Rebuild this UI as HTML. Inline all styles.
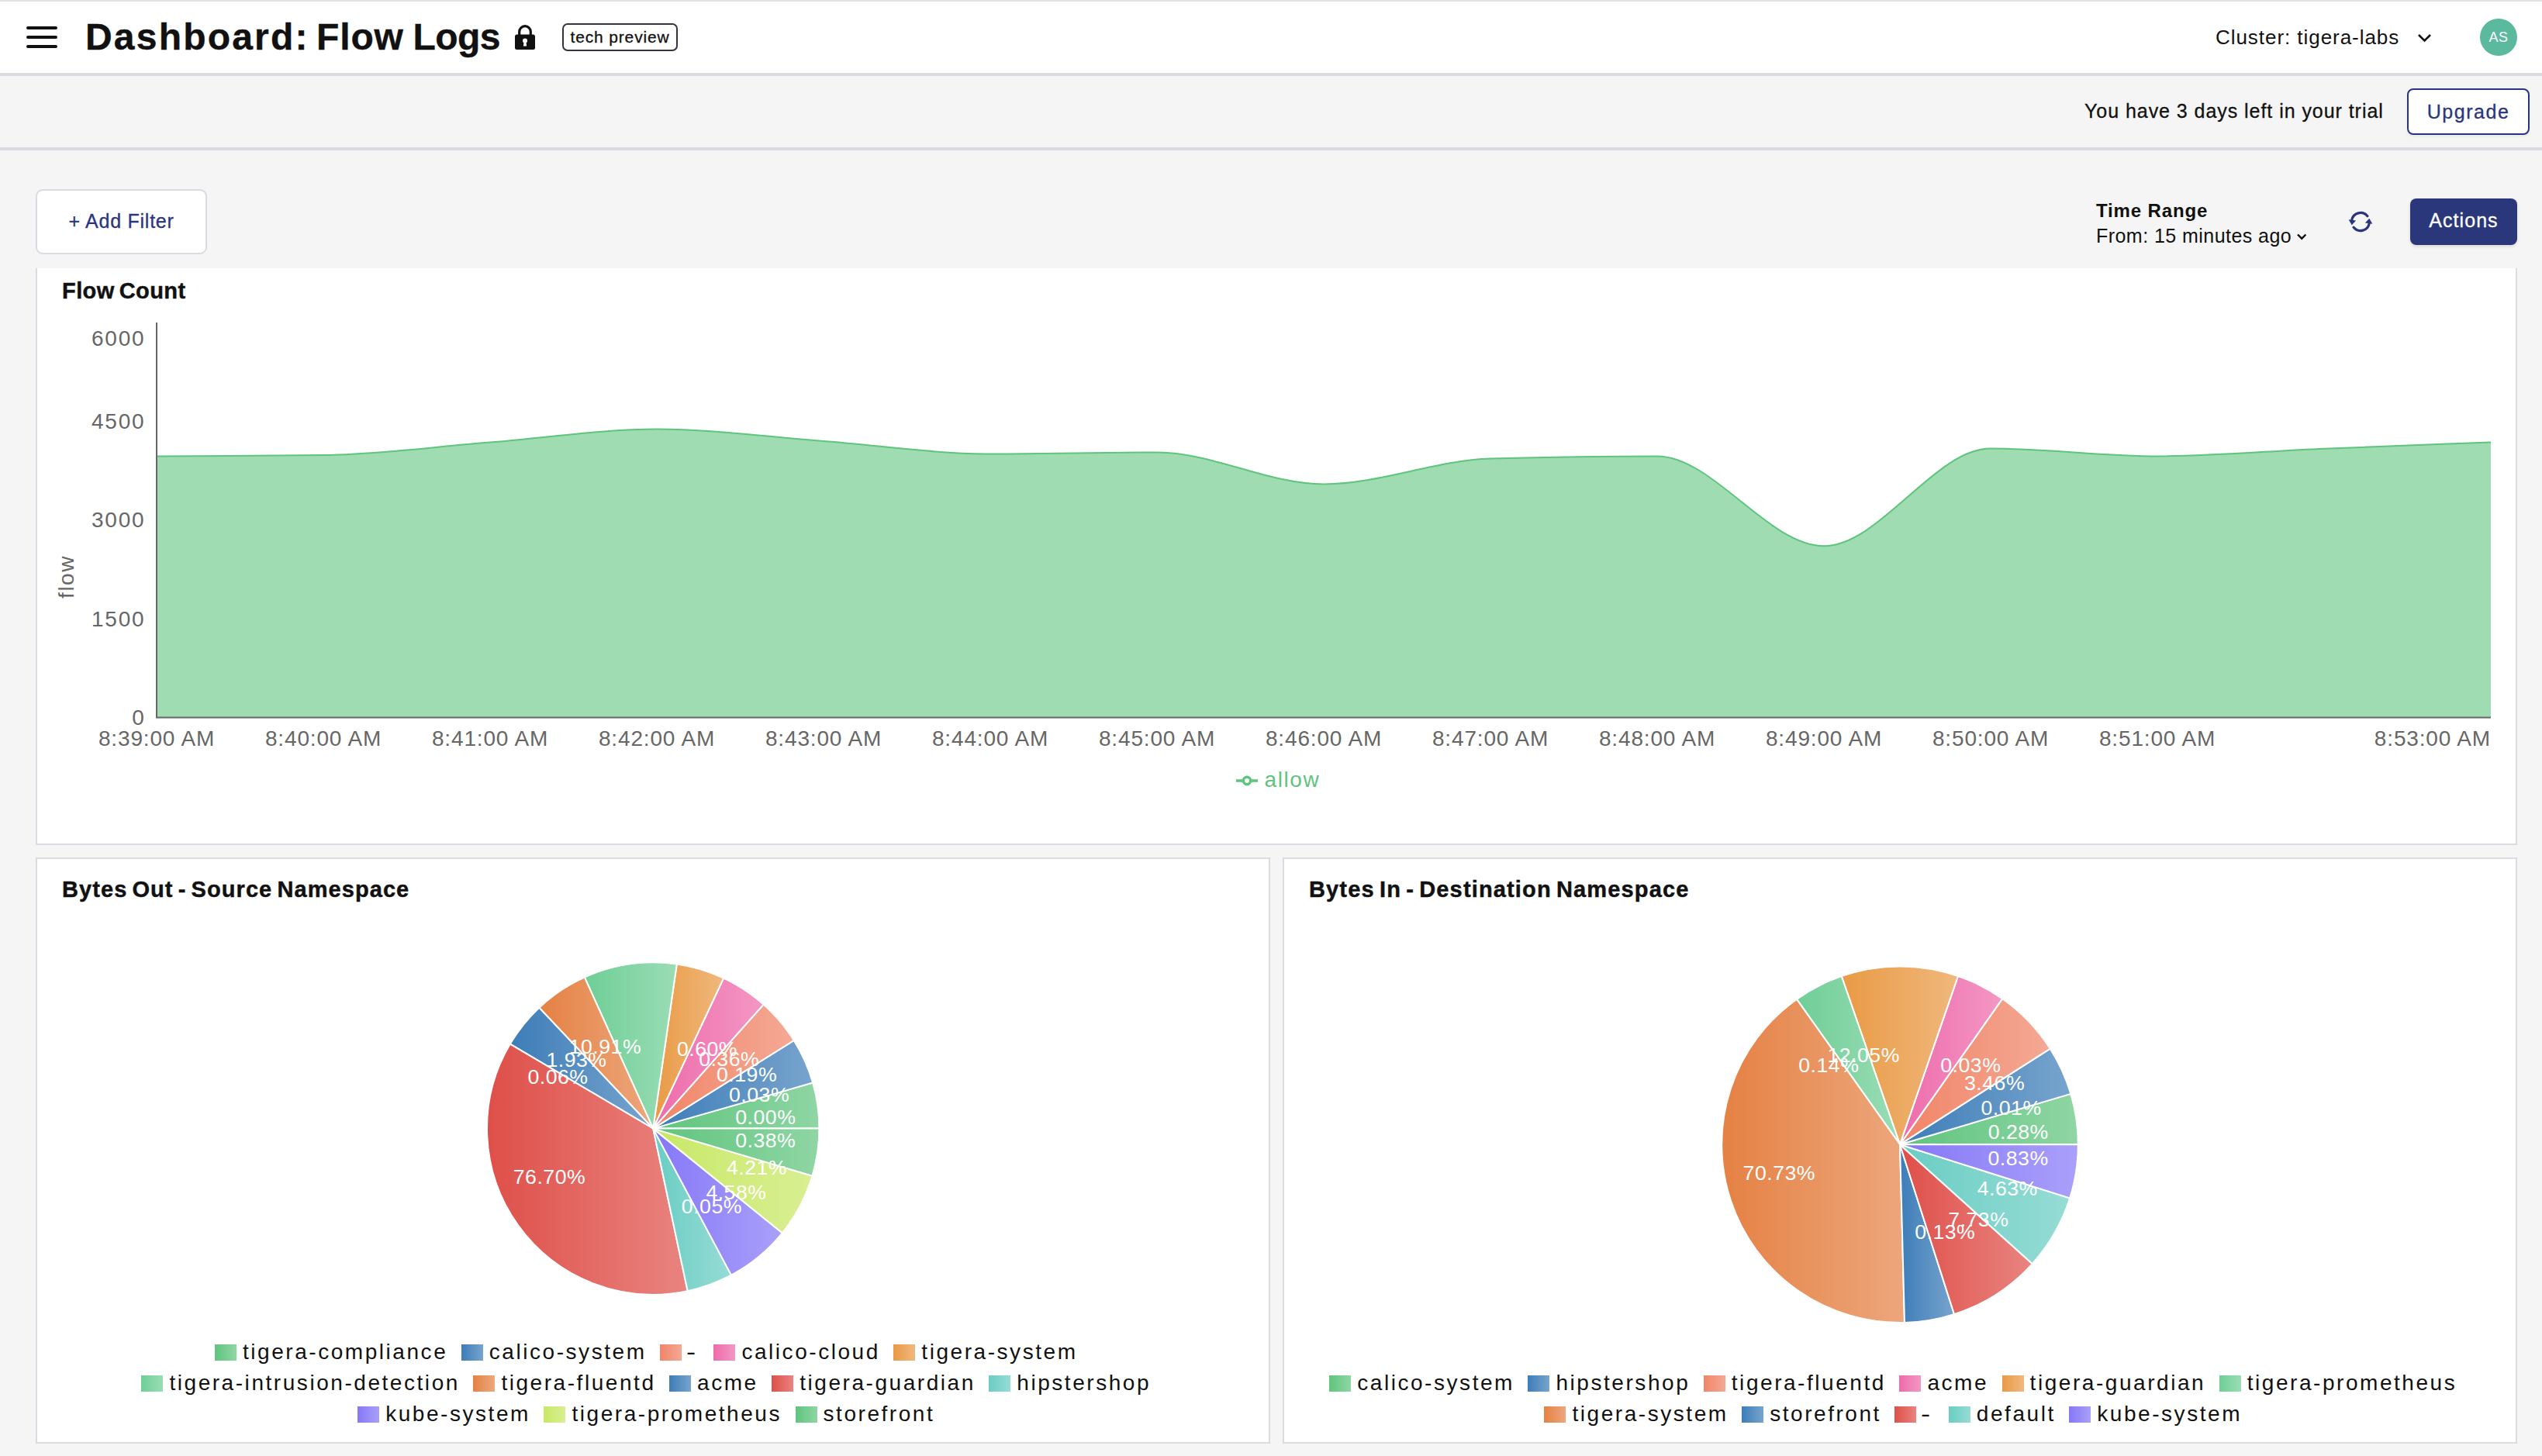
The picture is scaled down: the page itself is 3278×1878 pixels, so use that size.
<!DOCTYPE html>
<html lang="en">
<head>
<meta charset="utf-8">
<title>Dashboard: Flow Logs</title>
<style>
*{box-sizing:border-box;margin:0;padding:0}
html,body{width:3278px;height:1878px;overflow:hidden;background:#f5f5f5;font-family:"Liberation Sans",sans-serif;color:#111}
.abs{position:absolute;white-space:nowrap;line-height:1}
#topline{position:absolute;left:0;top:0;width:3278px;height:2px;background:#e1e3e1}
#header{position:absolute;left:0;top:2px;width:3278px;height:96px;background:#fff;border-bottom:4px solid #dadbe0}
#trial{position:absolute;left:0;top:98px;width:3278px;height:96px;background:#f5f5f5;border-bottom:4px solid #dadbe0}
.burger{position:absolute;left:34px;width:40px;height:4px;border-radius:2px;background:#111}
h1{-webkit-text-stroke:.4px #111;position:absolute;left:110px;top:19px;font-size:48px;font-weight:700;letter-spacing:.7px;white-space:nowrap;line-height:54px}
.badge{position:absolute;left:725px;top:28px;width:149px;height:36px;border:2px solid #32363c;border-radius:7px;font-size:21px;line-height:31px;text-align:center;letter-spacing:.85px;-webkit-text-stroke:.3px #111}
.cluster{left:2857px;top:30.5px;font-size:26px;letter-spacing:.95px;line-height:30px}
.avatar{position:absolute;left:3198px;top:22px;width:48px;height:48px;border-radius:50%;background:#5bb99d;color:#fff;font-size:18px;line-height:48px;text-align:center;letter-spacing:.5px}
.trialtxt{left:2688px;top:128px;font-size:25px;letter-spacing:.95px;line-height:30px;-webkit-text-stroke:.3px #111}
.btn{position:absolute;border-radius:8px;text-align:center;white-space:nowrap}
.upgrade{left:3104px;top:114px;width:158px;height:60px;border:2px solid #2a357f;background:#fff;color:#2a357f;font-size:25px;line-height:57px;letter-spacing:1.55px;-webkit-text-stroke:.3px #2a357f;box-shadow:0 2px 3px rgba(0,0,0,.06)}
.addfilter{left:46px;top:244px;width:221px;height:84px;border:2px solid #d9dae2;background:#fff;color:#2a357f;font-size:25px;line-height:78px;letter-spacing:.75px;-webkit-text-stroke:.3px #2a357f;border-radius:9px}
.actions{left:3108px;top:256px;width:138px;height:60px;background:#2b377b;color:#fff;font-size:25px;line-height:57px;letter-spacing:1.05px;-webkit-text-stroke:.3px #fff;box-shadow:0 2px 4px rgba(0,0,0,.12)}
.trlabel{left:2703px;top:257px;font-size:24px;font-weight:700;line-height:30px;letter-spacing:.85px}
.trvalue{left:2703px;top:289px;font-size:25px;line-height:30px;letter-spacing:.45px}
.card{position:absolute;background:#fff;border:2px solid #dbdce2}
.card h2{position:absolute;left:32px;font-size:29px;font-weight:700;white-space:nowrap;line-height:34px;-webkit-text-stroke:.45px #111}
#c1{left:46px;top:336px;width:3200px;height:754px}
#c2{left:46px;top:1106px;width:1592px;height:756px}
#c3{left:1654px;top:1106px;width:1592px;height:756px}
#filterbar{position:absolute;left:0;top:194px;width:3278px;height:152px;background:#f5f5f5}
svg{position:absolute;left:0;top:0;overflow:visible}
svg text{font-family:"Liberation Sans",sans-serif}
.axis text{fill:#666;font-size:28px;letter-spacing:.85px}
.axis .yt text{letter-spacing:1.8px}
.plab text{letter-spacing:.5px}
ul.leg{position:absolute;list-style:none;text-align:center;font-size:28px;line-height:40px;letter-spacing:2.55px;color:#111}
ul.leg li{display:inline-block;margin-right:17.5px;white-space:nowrap}
ul.leg li i{display:inline-block;width:28px;height:21px;margin-right:8px;vertical-align:-2px}
ul.leg li span{display:inline-block}
</style>
</head>
<body>
<div id="topline"></div>
<header id="header">
  <div class="burger" style="top:32px"></div><div class="burger" style="top:44px"></div><div class="burger" style="top:56px"></div>
  <h1><span style="letter-spacing:2.2px">Dashboard:</span><span style="letter-spacing:.9px;margin-left:-5px"> Flow</span><span style="letter-spacing:-.6px;margin-left:-1px"> Logs</span></h1>
  <svg width="3278" height="96" viewBox="0 2 3278 96">
    <g fill="#111">
      <path d="M666.5,44.5h21a2.5,2.5,0,0,1,2.500,2.500v14.500a2.500,2.500,0,0,1,-2.500,2.500h-21a2.500,2.500,0,0,1,-2.500,-2.500v-14.500a2.500,2.500,0,0,1,2.500,-2.500z"/>
      <path d="M669.7,46v-5a7.300,7.300,0,0,1,14.600,0v5" fill="none" stroke="#111" stroke-width="3.200"/>
      <circle cx="677" cy="52.600" r="3" fill="#fff"/><path d="M675.700,53h2.600l.8,6.400h-4.200z" fill="#fff"/>
    </g>
    <path d="M3119,45l7.500,7.500l7.500,-7.500" fill="none" stroke="#111" stroke-width="2.600"/>
  </svg>
  <div class="badge">tech preview</div>
  <div class="abs cluster">Cluster: tigera-labs</div>
  <div class="avatar">AS</div>
</header>
<section id="trial"></section>
<div class="abs trialtxt">You have 3 days left in your trial</div>
<div class="btn upgrade">Upgrade</div>

<main>
<section class="card" id="c1">
  <h2 style="top:19.800px;letter-spacing:.42px;word-spacing:-2.500px">Flow Count</h2>
</section>
<section class="card" id="c2">
  <h2 style="top:22.400px;letter-spacing:1.07px;word-spacing:-3px">Bytes Out - Source Namespace</h2>
  <ul class="leg" style="left:0;top:616px;width:1588px"><li><i style="background:linear-gradient(90deg,#5fc47d,#8fd6a4)"></i><span>tigera-compliance</span></li><li><i style="background:linear-gradient(90deg,#3d7db8,#77a4cd)"></i><span>calico-system</span></li><li><i style="background:linear-gradient(90deg,#f08467,#f4a995)"></i><span style="padding:0 1px 0 0;transform:scaleX(1.3);transform-origin:0 50%%;margin-right:3px">-</span></li><li><i style="background:linear-gradient(90deg,#ee6bab,#f397c4)"></i><span>calico-cloud</span></li><li><i style="background:linear-gradient(90deg,#e99a45,#f0b87d)"></i><span>tigera-system</span></li><br><li><i style="background:linear-gradient(90deg,#6fce96,#9addb6)"></i><span>tigera-intrusion-detection</span></li><li><i style="background:linear-gradient(90deg,#e58144,#eda77c)"></i><span>tigera-fluentd</span></li><li><i style="background:linear-gradient(90deg,#3d7db8,#77a4cd)"></i><span>acme</span></li><li><i style="background:linear-gradient(90deg,#df4f49,#e98480)"></i><span>tigera-guardian</span></li><li><i style="background:linear-gradient(90deg,#69cdc3,#96dcd5)"></i><span>hipstershop</span></li><br><li><i style="background:linear-gradient(90deg,#8577f7,#aaa0f9)"></i><span>kube-system</span></li><li><i style="background:linear-gradient(90deg,#c8e865,#d8ef93)"></i><span>tigera-prometheus</span></li><li><i style="background:linear-gradient(90deg,#5fc47d,#8fd6a4)"></i><span>storefront</span></li></ul>
</section>
<section class="card" id="c3">
  <h2 style="top:22.400px;letter-spacing:1.15px;word-spacing:-3px">Bytes In - Destination Namespace</h2>
  <ul class="leg" style="left:0;top:656px;width:1588px"><li><i style="background:linear-gradient(90deg,#5fc47d,#8fd6a4)"></i><span>calico-system</span></li><li><i style="background:linear-gradient(90deg,#3d7db8,#77a4cd)"></i><span>hipstershop</span></li><li><i style="background:linear-gradient(90deg,#f08467,#f4a995)"></i><span>tigera-fluentd</span></li><li><i style="background:linear-gradient(90deg,#ee6bab,#f397c4)"></i><span>acme</span></li><li><i style="background:linear-gradient(90deg,#e99a45,#f0b87d)"></i><span>tigera-guardian</span></li><li><i style="background:linear-gradient(90deg,#6fce96,#9addb6)"></i><span>tigera-prometheus</span></li><br><li><i style="background:linear-gradient(90deg,#e58144,#eda77c)"></i><span>tigera-system</span></li><li><i style="background:linear-gradient(90deg,#3d7db8,#77a4cd)"></i><span>storefront</span></li><li><i style="background:linear-gradient(90deg,#df4f49,#e98480)"></i><span style="padding:0 1px 0 0;transform:scaleX(1.3);transform-origin:0 50%%;margin-right:3px">-</span></li><li><i style="background:linear-gradient(90deg,#69cdc3,#96dcd5)"></i><span>default</span></li><li><i style="background:linear-gradient(90deg,#8577f7,#aaa0f9)"></i><span>kube-system</span></li></ul>
</section>
<div id="filterbar"></div>
<div class="btn addfilter">+ Add Filter</div>
<div class="abs trlabel">Time Range</div>
<div class="abs trvalue">From: 15 minutes ago</div>
<div class="btn actions">Actions</div>

<svg width="3278" height="1878" viewBox="0 0 3278 1878">
  <!-- time range chevron + refresh icon -->
  <path d="M2963,302.500l5.200,5.200l5.200,-5.200" fill="none" stroke="#111" stroke-width="2.400"/>
  <g transform="translate(3044,286)" fill="#2a357f" stroke="none">
    <path d="M8.900,-7.300A11.500,11.500,0,0,0,-11.300,-2" fill="none" stroke="#2a357f" stroke-width="3.200" stroke-linecap="round"/>
    <path d="M-15.400,-2.800L-5.900,-1.600L-11.250,4.200Z"/>
    <path d="M-8.900,7.300A11.500,11.500,0,0,0,11.300,2" fill="none" stroke="#2a357f" stroke-width="3.200" stroke-linecap="round"/>
    <path d="M15.400,2.800L5.900,1.600L11.250,-4.200Z"/>
  </g>
  <!-- area chart -->
  <path d="M202.00,588.40C273.67,588.18,345.33,587.97,417.00,587.10C488.67,586.23,560.33,576.20,632.00,570.60C703.67,565.00,775.33,553.50,847.00,553.50C918.67,553.50,990.33,563.67,1062.00,569.00C1133.67,574.33,1205.33,585.50,1277.00,585.50C1348.67,585.50,1420.33,583.50,1492.00,583.50C1563.67,583.50,1635.33,624.50,1707.00,624.50C1778.67,624.50,1850.33,593.73,1922.00,591.60C1993.67,589.47,2065.33,588.40,2137.00,588.40C2208.67,588.40,2280.33,704.20,2352.00,704.20C2423.67,704.20,2495.33,578.40,2567.00,578.40C2638.67,578.40,2710.33,588.40,2782.00,588.40C2853.67,588.40,2925.33,581.67,2997.00,578.70C3068.67,575.73,3140.33,573.17,3212.00,570.60L3212,925.5L202,925.5Z" fill="#5fc47d" fill-opacity="0.6"/>
  <path d="M202.00,588.40C273.67,588.18,345.33,587.97,417.00,587.10C488.67,586.23,560.33,576.20,632.00,570.60C703.67,565.00,775.33,553.50,847.00,553.50C918.67,553.50,990.33,563.67,1062.00,569.00C1133.67,574.33,1205.33,585.50,1277.00,585.50C1348.67,585.50,1420.33,583.50,1492.00,583.50C1563.67,583.50,1635.33,624.50,1707.00,624.50C1778.67,624.50,1850.33,593.73,1922.00,591.60C1993.67,589.47,2065.33,588.40,2137.00,588.40C2208.67,588.40,2280.33,704.20,2352.00,704.20C2423.67,704.20,2495.33,578.40,2567.00,578.40C2638.67,578.40,2710.33,588.40,2782.00,588.40C2853.67,588.40,2925.33,581.67,2997.00,578.70C3068.67,575.73,3140.33,573.17,3212.00,570.60" fill="none" stroke="#5fc47d" stroke-width="2"/>
  <path d="M202,416V926.500M201,925.500H3212" fill="none" stroke="#666" stroke-width="2"/>
  <g class="axis"><g class="yt"><text x="187.500" y="436" text-anchor="end" dominant-baseline="central">6000</text><text x="187.500" y="543" text-anchor="end" dominant-baseline="central">4500</text><text x="187.500" y="670.5" text-anchor="end" dominant-baseline="central">3000</text><text x="187.500" y="798" text-anchor="end" dominant-baseline="central">1500</text><text x="187.500" y="925.5" text-anchor="end" dominant-baseline="central">0</text></g><text x="202" y="962" text-anchor="middle">8:39:00 AM</text><text x="417" y="962" text-anchor="middle">8:40:00 AM</text><text x="632" y="962" text-anchor="middle">8:41:00 AM</text><text x="847" y="962" text-anchor="middle">8:42:00 AM</text><text x="1062" y="962" text-anchor="middle">8:43:00 AM</text><text x="1277" y="962" text-anchor="middle">8:44:00 AM</text><text x="1492" y="962" text-anchor="middle">8:45:00 AM</text><text x="1707" y="962" text-anchor="middle">8:46:00 AM</text><text x="1922" y="962" text-anchor="middle">8:47:00 AM</text><text x="2137" y="962" text-anchor="middle">8:48:00 AM</text><text x="2352" y="962" text-anchor="middle">8:49:00 AM</text><text x="2567" y="962" text-anchor="middle">8:50:00 AM</text><text x="2782" y="962" text-anchor="middle">8:51:00 AM</text><text x="3212" y="962" text-anchor="end">8:53:00 AM</text>
    <text transform="translate(94.500,744) rotate(-90)" text-anchor="middle" style="letter-spacing:1.5px;font-size:28px">flow</text>
  </g>
  <g fill="none" stroke="#5fc47d" stroke-width="3.500">
    <path d="M1594,1007h9.330a4.670,4.670,0,1,1,9.340,0h9.330M1612.670,1007a4.670,4.670,0,1,1,-9.340,0"/>
  </g>
  <text x="1630.500" y="1015" fill="#5fc47d" font-size="28" style="letter-spacing:1.6px">allow</text>
  <!-- pies -->
  <defs><linearGradient id="lg0" x1="0" y1="0" x2="1" y2="0"><stop offset="0" stop-color="#5fc47d"/><stop offset="1" stop-color="#5fc47d" stop-opacity="0.7"/></linearGradient><linearGradient id="lg1" x1="0" y1="0" x2="1" y2="0"><stop offset="0" stop-color="#3d7db8"/><stop offset="1" stop-color="#3d7db8" stop-opacity="0.7"/></linearGradient><linearGradient id="lg2" x1="0" y1="0" x2="1" y2="0"><stop offset="0" stop-color="#f08467"/><stop offset="1" stop-color="#f08467" stop-opacity="0.7"/></linearGradient><linearGradient id="lg3" x1="0" y1="0" x2="1" y2="0"><stop offset="0" stop-color="#ee6bab"/><stop offset="1" stop-color="#ee6bab" stop-opacity="0.7"/></linearGradient><linearGradient id="lg4" x1="0" y1="0" x2="1" y2="0"><stop offset="0" stop-color="#e99a45"/><stop offset="1" stop-color="#e99a45" stop-opacity="0.7"/></linearGradient><linearGradient id="lg5" x1="0" y1="0" x2="1" y2="0"><stop offset="0" stop-color="#6fce96"/><stop offset="1" stop-color="#6fce96" stop-opacity="0.7"/></linearGradient><linearGradient id="lg6" x1="0" y1="0" x2="1" y2="0"><stop offset="0" stop-color="#e58144"/><stop offset="1" stop-color="#e58144" stop-opacity="0.7"/></linearGradient><linearGradient id="lg7" x1="0" y1="0" x2="1" y2="0"><stop offset="0" stop-color="#3d7db8"/><stop offset="1" stop-color="#3d7db8" stop-opacity="0.7"/></linearGradient><linearGradient id="lg8" x1="0" y1="0" x2="1" y2="0"><stop offset="0" stop-color="#df4f49"/><stop offset="1" stop-color="#df4f49" stop-opacity="0.7"/></linearGradient><linearGradient id="lg9" x1="0" y1="0" x2="1" y2="0"><stop offset="0" stop-color="#69cdc3"/><stop offset="1" stop-color="#69cdc3" stop-opacity="0.7"/></linearGradient><linearGradient id="lg10" x1="0" y1="0" x2="1" y2="0"><stop offset="0" stop-color="#8577f7"/><stop offset="1" stop-color="#8577f7" stop-opacity="0.7"/></linearGradient><linearGradient id="lg11" x1="0" y1="0" x2="1" y2="0"><stop offset="0" stop-color="#c8e865"/><stop offset="1" stop-color="#c8e865" stop-opacity="0.7"/></linearGradient><linearGradient id="lg12" x1="0" y1="0" x2="1" y2="0"><stop offset="0" stop-color="#5fc47d"/><stop offset="1" stop-color="#5fc47d" stop-opacity="0.7"/></linearGradient></defs>
<g><path d="M1056.40,1455.60 A214.20,214.20,0,0,0,1048.10,1396.56 L842.20,1455.60 Z" fill="url(#lg0)" stroke="#fff" stroke-width="2"/>
<path d="M1048.10,1396.56 A214.20,214.20,0,0,0,1023.76,1341.95 L842.20,1455.60 Z" fill="url(#lg1)" stroke="#fff" stroke-width="2"/>
<path d="M1023.76,1341.95 A214.20,214.20,0,0,0,984.60,1295.58 L842.20,1455.60 Z" fill="url(#lg2)" stroke="#fff" stroke-width="2"/>
<path d="M984.60,1295.58 A214.20,214.20,0,0,0,933.13,1261.66 L842.20,1455.60 Z" fill="url(#lg3)" stroke="#fff" stroke-width="2"/>
<path d="M933.13,1261.66 A214.20,214.20,0,0,0,872.77,1243.59 L842.20,1455.60 Z" fill="url(#lg4)" stroke="#fff" stroke-width="2"/>
<path d="M872.77,1243.59 A214.20,214.20,0,0,0,753.79,1260.50 L842.20,1455.60 Z" fill="url(#lg5)" stroke="#fff" stroke-width="2"/>
<path d="M753.79,1260.50 A214.20,214.20,0,0,0,695.27,1299.74 L842.20,1455.60 Z" fill="url(#lg6)" stroke="#fff" stroke-width="2"/>
<path d="M695.27,1299.74 A214.20,214.20,0,0,0,657.83,1346.57 L842.20,1455.60 Z" fill="url(#lg7)" stroke="#fff" stroke-width="2"/>
<path d="M657.83,1346.57 A214.20,214.20,0,0,0,886.68,1665.13 L842.20,1455.60 Z" fill="url(#lg8)" stroke="#fff" stroke-width="2"/>
<path d="M886.68,1665.13 A214.20,214.20,0,0,0,942.96,1644.62 L842.20,1455.60 Z" fill="url(#lg9)" stroke="#fff" stroke-width="2"/>
<path d="M942.96,1644.62 A214.20,214.20,0,0,0,1008.72,1590.33 L842.20,1455.60 Z" fill="url(#lg10)" stroke="#fff" stroke-width="2"/>
<path d="M1008.72,1590.33 A214.20,214.20,0,0,0,1047.50,1516.71 L842.20,1455.60 Z" fill="url(#lg11)" stroke="#fff" stroke-width="2"/>
<path d="M1047.50,1516.71 A214.20,214.20,0,0,0,1056.40,1455.60 L842.20,1455.60 Z" fill="url(#lg12)" stroke="#fff" stroke-width="2"/></g>
<g class="plab" fill="#fff" font-size="26.67"><text x="948.26" y="1440.69" text-anchor="start" dominant-baseline="central">0.00%</text>
<text x="940.02" y="1412.00" text-anchor="start" dominant-baseline="central">0.03%</text>
<text x="924.01" y="1386.49" text-anchor="start" dominant-baseline="central">0.19%</text>
<text x="901.14" y="1366.18" text-anchor="start" dominant-baseline="central">0.36%</text>
<text x="872.91" y="1353.00" text-anchor="start" dominant-baseline="central">0.60%</text>
<text x="827.14" y="1349.56" text-anchor="end" dominant-baseline="central">10.91%</text>
<text x="782.55" y="1366.65" text-anchor="end" dominant-baseline="central">1.93%</text>
<text x="758.55" y="1388.72" text-anchor="end" dominant-baseline="central">0.06%</text>
<text x="755.22" y="1518.09" text-anchor="end" dominant-baseline="central">76.70%</text>
<text x="878.87" y="1556.23" text-anchor="start" dominant-baseline="central">0.05%</text>
<text x="910.39" y="1538.19" text-anchor="start" dominant-baseline="central">4.58%</text>
<text x="936.96" y="1505.51" text-anchor="start" dominant-baseline="central">4.21%</text>
<text x="948.18" y="1471.04" text-anchor="start" dominant-baseline="central">0.38%</text></g>
  <defs><linearGradient id="rg0" x1="0" y1="0" x2="1" y2="0"><stop offset="0" stop-color="#5fc47d"/><stop offset="1" stop-color="#5fc47d" stop-opacity="0.7"/></linearGradient><linearGradient id="rg1" x1="0" y1="0" x2="1" y2="0"><stop offset="0" stop-color="#3d7db8"/><stop offset="1" stop-color="#3d7db8" stop-opacity="0.7"/></linearGradient><linearGradient id="rg2" x1="0" y1="0" x2="1" y2="0"><stop offset="0" stop-color="#f08467"/><stop offset="1" stop-color="#f08467" stop-opacity="0.7"/></linearGradient><linearGradient id="rg3" x1="0" y1="0" x2="1" y2="0"><stop offset="0" stop-color="#ee6bab"/><stop offset="1" stop-color="#ee6bab" stop-opacity="0.7"/></linearGradient><linearGradient id="rg4" x1="0" y1="0" x2="1" y2="0"><stop offset="0" stop-color="#e99a45"/><stop offset="1" stop-color="#e99a45" stop-opacity="0.7"/></linearGradient><linearGradient id="rg5" x1="0" y1="0" x2="1" y2="0"><stop offset="0" stop-color="#6fce96"/><stop offset="1" stop-color="#6fce96" stop-opacity="0.7"/></linearGradient><linearGradient id="rg6" x1="0" y1="0" x2="1" y2="0"><stop offset="0" stop-color="#e58144"/><stop offset="1" stop-color="#e58144" stop-opacity="0.7"/></linearGradient><linearGradient id="rg7" x1="0" y1="0" x2="1" y2="0"><stop offset="0" stop-color="#3d7db8"/><stop offset="1" stop-color="#3d7db8" stop-opacity="0.7"/></linearGradient><linearGradient id="rg8" x1="0" y1="0" x2="1" y2="0"><stop offset="0" stop-color="#df4f49"/><stop offset="1" stop-color="#df4f49" stop-opacity="0.7"/></linearGradient><linearGradient id="rg9" x1="0" y1="0" x2="1" y2="0"><stop offset="0" stop-color="#69cdc3"/><stop offset="1" stop-color="#69cdc3" stop-opacity="0.7"/></linearGradient><linearGradient id="rg10" x1="0" y1="0" x2="1" y2="0"><stop offset="0" stop-color="#8577f7"/><stop offset="1" stop-color="#8577f7" stop-opacity="0.7"/></linearGradient></defs>
<g><path d="M2679.80,1476.20 A229.80,229.80,0,0,0,2670.32,1410.88 L2450.00,1476.20 Z" fill="url(#rg0)" stroke="#fff" stroke-width="2"/>
<path d="M2670.32,1410.88 A229.80,229.80,0,0,0,2643.74,1352.62 L2450.00,1476.20 Z" fill="url(#rg1)" stroke="#fff" stroke-width="2"/>
<path d="M2643.74,1352.62 A229.80,229.80,0,0,0,2582.14,1288.19 L2450.00,1476.20 Z" fill="url(#rg2)" stroke="#fff" stroke-width="2"/>
<path d="M2582.14,1288.19 A229.80,229.80,0,0,0,2524.99,1258.98 L2450.00,1476.20 Z" fill="url(#rg3)" stroke="#fff" stroke-width="2"/>
<path d="M2524.99,1258.98 A229.80,229.80,0,0,0,2374.72,1259.08 L2450.00,1476.20 Z" fill="url(#rg4)" stroke="#fff" stroke-width="2"/>
<path d="M2374.72,1259.08 A229.80,229.80,0,0,0,2316.95,1288.83 L2450.00,1476.20 Z" fill="url(#rg5)" stroke="#fff" stroke-width="2"/>
<path d="M2316.95,1288.83 A229.80,229.80,0,0,0,2456.00,1705.92 L2450.00,1476.20 Z" fill="url(#rg6)" stroke="#fff" stroke-width="2"/>
<path d="M2456.00,1705.92 A229.80,229.80,0,0,0,2520.00,1695.08 L2450.00,1476.20 Z" fill="url(#rg7)" stroke="#fff" stroke-width="2"/>
<path d="M2520.00,1695.08 A229.80,229.80,0,0,0,2620.66,1630.10 L2450.00,1476.20 Z" fill="url(#rg8)" stroke="#fff" stroke-width="2"/>
<path d="M2620.66,1630.10 A229.80,229.80,0,0,0,2669.13,1545.41 L2450.00,1476.20 Z" fill="url(#rg9)" stroke="#fff" stroke-width="2"/>
<path d="M2669.13,1545.41 A229.80,229.80,0,0,0,2679.80,1476.20 L2450.00,1476.20 Z" fill="url(#rg10)" stroke="#fff" stroke-width="2"/></g>
<g class="plab" fill="#fff" font-size="26.67"><text x="2563.71" y="1459.70" text-anchor="start" dominant-baseline="central">0.28%</text>
<text x="2554.53" y="1428.51" text-anchor="start" dominant-baseline="central">0.01%</text>
<text x="2533.05" y="1396.79" text-anchor="start" dominant-baseline="central">3.46%</text>
<text x="2502.30" y="1373.89" text-anchor="start" dominant-baseline="central">0.03%</text>
<text x="2449.92" y="1361.30" text-anchor="end" dominant-baseline="central">12.05%</text>
<text x="2397.39" y="1374.05" text-anchor="end" dominant-baseline="central">0.14%</text>
<text x="2341.00" y="1512.54" text-anchor="end" dominant-baseline="central">70.73%</text>
<text x="2469.19" y="1589.49" text-anchor="start" dominant-baseline="central">0.13%</text>
<text x="2512.32" y="1572.73" text-anchor="start" dominant-baseline="central">7.73%</text>
<text x="2549.72" y="1533.28" text-anchor="start" dominant-baseline="central">4.63%</text>
<text x="2563.56" y="1493.71" text-anchor="start" dominant-baseline="central">0.83%</text></g>
</svg>
</main>
</body>
</html>
